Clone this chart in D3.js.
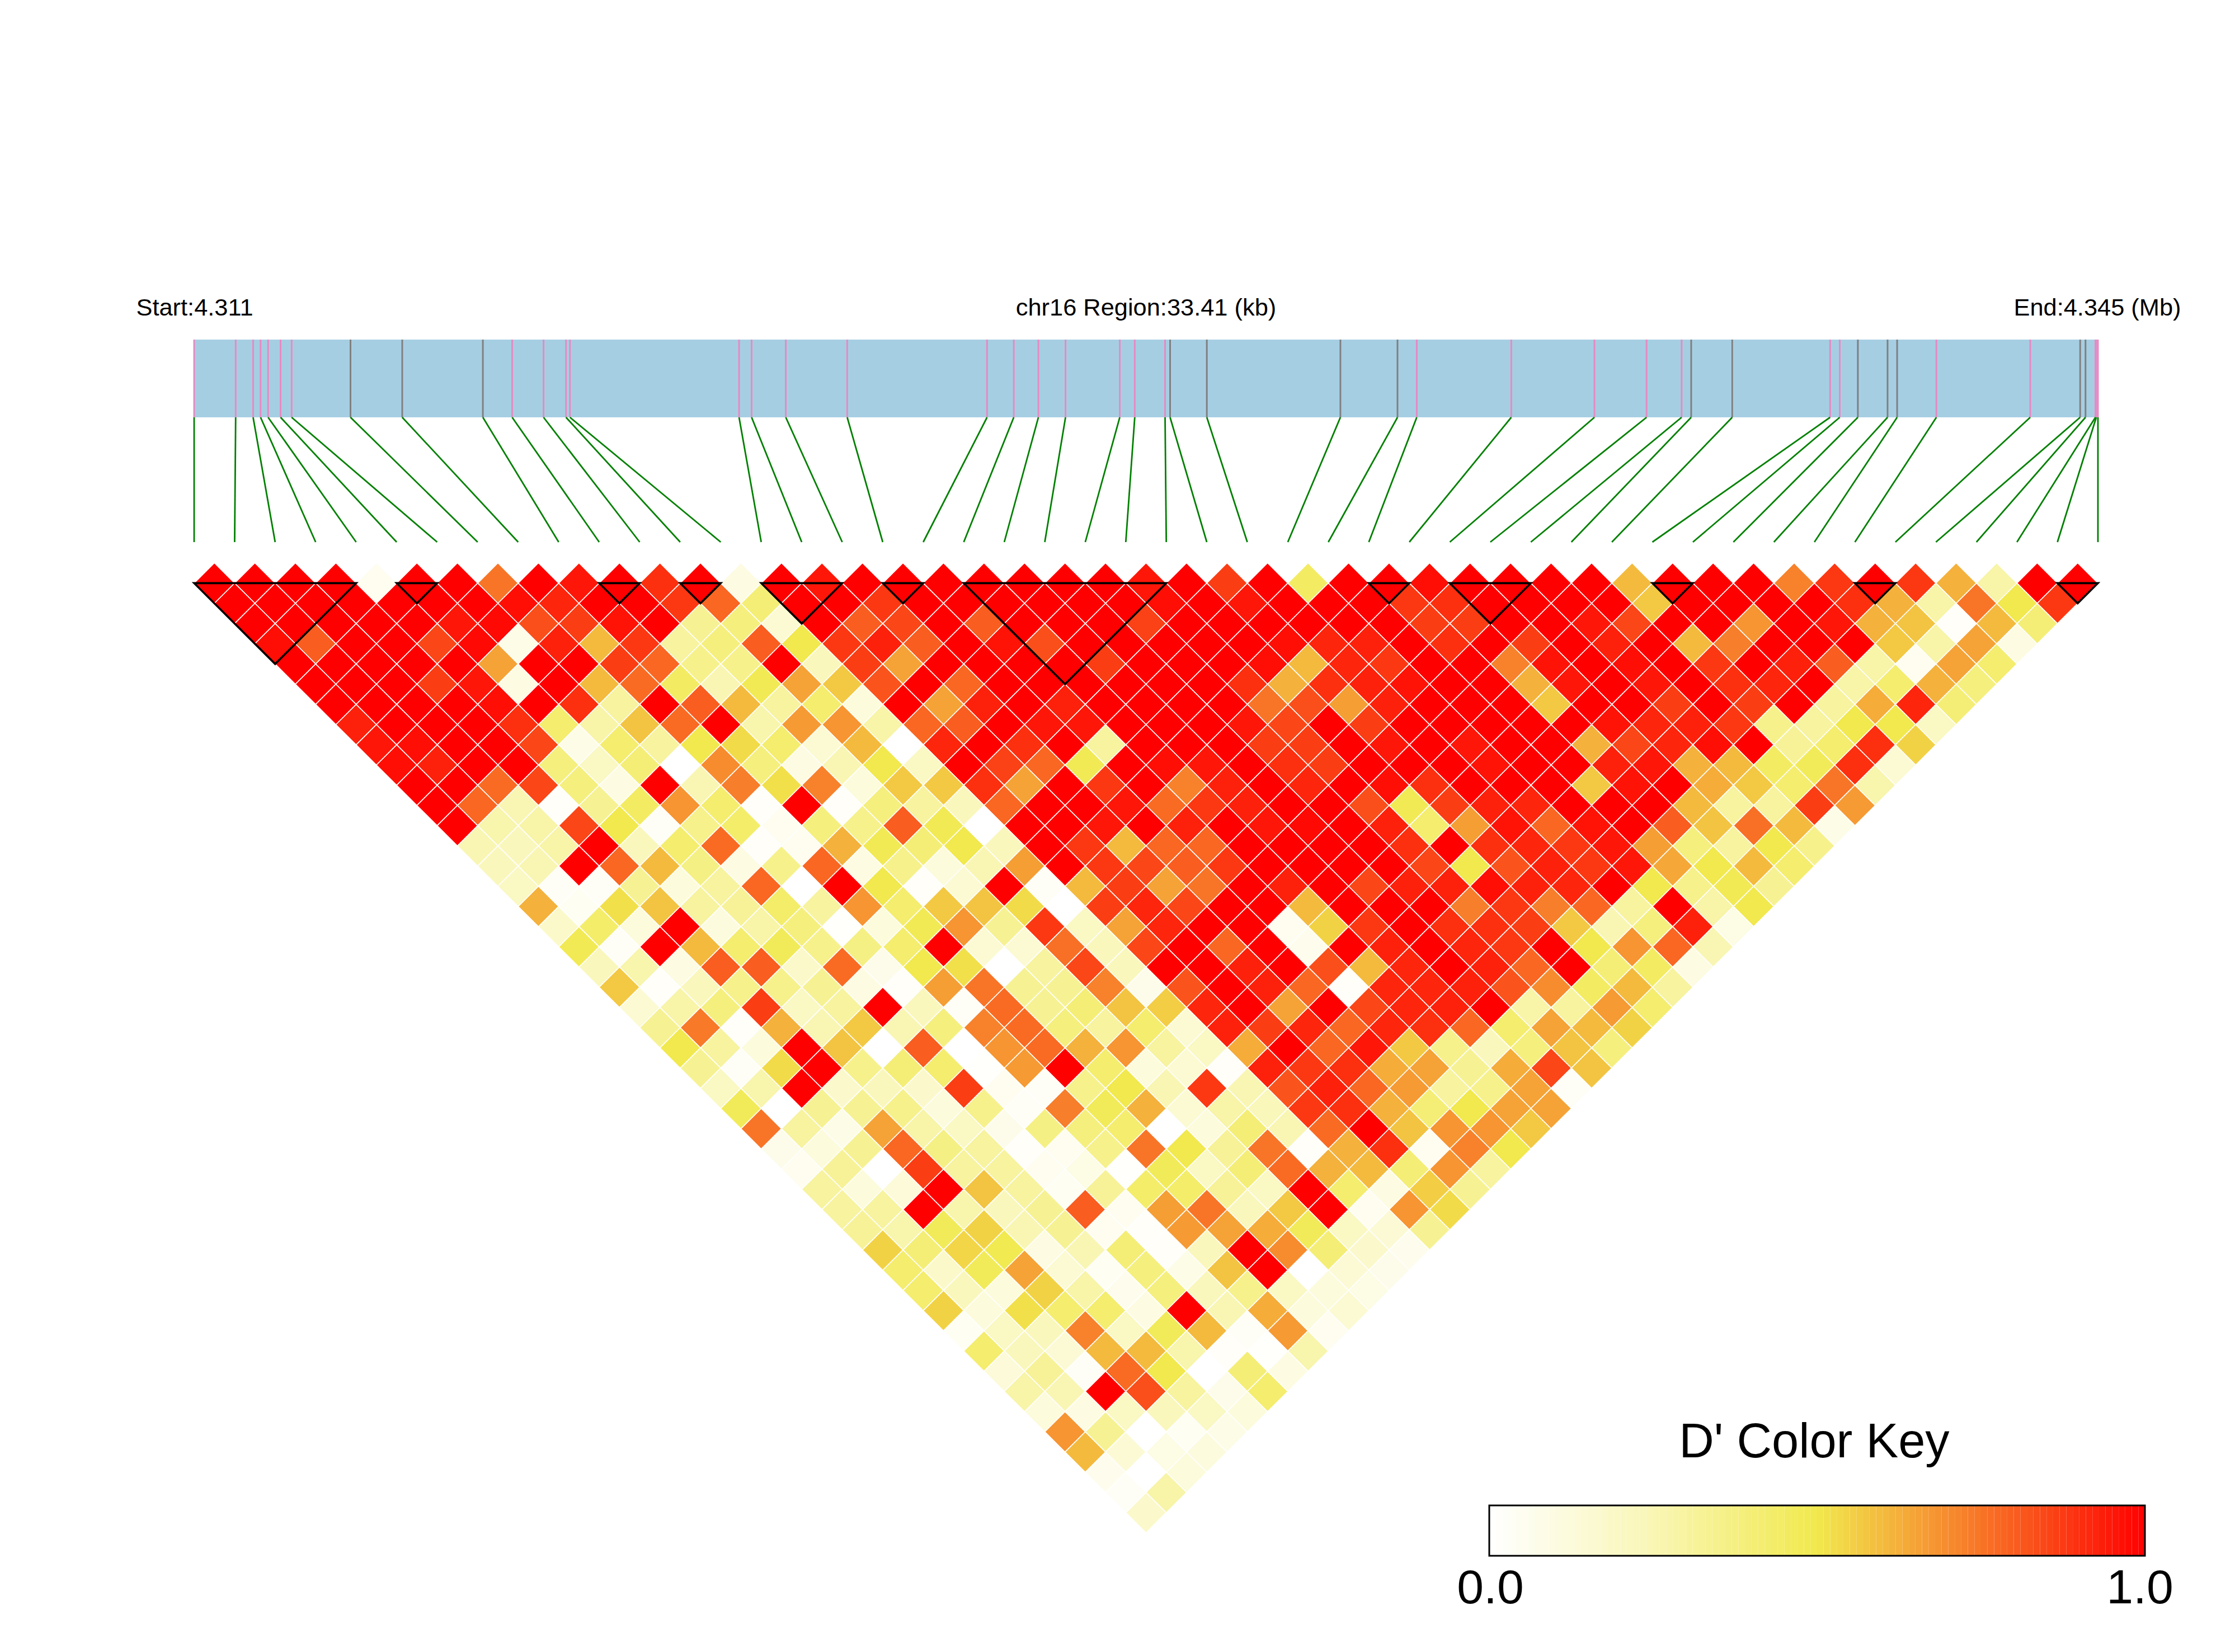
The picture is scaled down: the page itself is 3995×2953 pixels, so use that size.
<!DOCTYPE html>
<html>
<head>
<meta charset="utf-8">
<title>chr16 LD heatmap</title>
<script src="https://cdn.jsdelivr.net/npm/d3@7"></script>
<style>
  html, body { margin: 0; padding: 0; background: #fff; }
  text { font-family: "Liberation Sans", Arial, sans-serif; fill: #000; }
</style>
</head>
<body>
<svg id="chart" width="3995" height="2953"></svg>
<script>
// snp positions in kb from the region start
var snpKb = [0,.729,1.035,1.166,1.298,1.517,1.711,2.744,3.652,5.067,5.581,6.132,6.526,6.595,
  9.563,9.783,10.383,11.461,13.915,14.384,14.816,15.292,16.244,16.507,17.039,17.127,17.772,
  20.116,21.118,21.456,23.115,24.574,25.489,26.104,26.272,26.992,28.71,28.879,29.197,29.718,
  29.886,30.575,32.222,33.098,33.192,33.366,33.381,33.41];

// which snps get the grey tick, all others are pink
var greySnps = [7,8,9,25,26,27,28,34,35,38,39,40,43,44];

// haplotype blocks, first and last snp index
var blocks = [[0,4],[5,6],[10,11],[12,13],[14,16],[17,18],[19,24],[29,30],[31,33],[36,37],[41,42],[46,47]];

var headerLabels = ["Start:4.311", "chr16 Region:33.41 (kb)", "End:4.345 (Mb)"];
var keyTitle = "D' Color Key";
var keyLabels = ["0.0", "1.0"];

// D' values, one array per distance between snps (r0 = neighbours)
var r0 = [1,1,1,1,.05,1,1,.75,1,.95,1,.9,1,.1,1,.95,1,1,1,1,1,1,1,.95,1,.87,1,.45,1,1,.97,1,1,1,1,.6,1,1,1,.72,.88,1,.88,.62,.28,1,1];
var r1 = [1,1,1,1,1,1,1,.97,.92,1,1,.88,.78,.4,1,1,.88,1,1,1,1,1,1,.97,1,.95,1,1,1,.88,.9,1,1,1,1,.57,1,1,1,1,.9,.62,.28,.75,.5,.88];
var r2 = [1,1,1,1,1,.95,.98,.83,.87,.96,1,.33,.38,.15,1,.8,.85,1,.8,1,1,1,.86,1,1,1,1,1,1,.87,.87,1,1,.95,.85,1,1,.68,1,.95,.62,.58,.02,.6,.4];
var r3 = [.97,.8,1,1,.85,.98,.08,.93,.6,.88,.3,.38,.8,.5,.88,.93,.8,1,.96,.83,1,1,1,1,1,.97,.92,.93,1,.9,1,.87,1,.93,1,.6,.73,1,1,1,.57,.28,.65,.1];
var r4 = [1,1,1,1,1,.65,1,1,.87,.78,.35,.35,1,.22,.87,.65,1,1,1,1,.87,1,1,1,.97,.6,.92,.88,1,1,.72,.96,1,.97,1,.88,1,.93,.8,.28,.05,.65,.42];
var r5 = [1,1,1,.87,.95,.1,1,.6,.77,.45,.25,.48,.65,.57,.82,1,.78,1,1,1,1,1,1,.9,.62,.9,.93,.96,1,1,.62,.95,1,.95,1,.9,.92,1,.28,.42,.62,.38];
var r6 = [1,1,1,1,.97,1,.9,.3,1,.8,.6,.3,.42,.12,1,.65,.93,1,.93,1,1,1,1,.75,.83,.66,.93,1,1,1,.57,1,1,.87,1,.87,1,.3,.63,.92,.4];
var r7 = [.93,1,1,1,.9,.42,.28,.58,.77,1,.27,.67,.68,.28,.78,.8,1,.95,.95,1,1,1,.95,.85,1,.87,1,1,1,1,1,.96,.92,.93,.88,.35,.3,.5,.5,.2];
var r8 = [.95,.97,1,1,.85,.08,.42,.3,.5,.53,.42,.15,.6,0,.92,1,.9,1,.3,1,1,1,.87,.87,1,.95,1,.95,1,1,.62,.85,.92,.97,1,.32,.42,.9,.55];
var r9 = [.97,.93,1,1,.38,.2,.4,0,.7,.38,.1,.25,.5,.2,1,.86,.78,.48,1,.97,.95,1,.9,.87,1,1,1,.96,1,1,.93,.95,.62,.6,.45,.47,.9,.15];
var r10 = [1,1,.77,.85,.38,.1,1,.25,.73,.52,.72,.12,.57,.57,.9,.65,1,.88,1,.72,.93,1,.92,1,.97,.9,1,1,1,.57,.96,1,.63,.57,.42,.75,.27];
var r11 = [1,.78,.25,.02,.33,.45,.68,.42,.02,1,.02,.38,.3,.22,.78,1,1,.95,.77,.88,.93,1,1,.83,.48,.87,.93,.92,1,1,1,.6,.3,.3,.87,.67];
var r12 = [1,.27,.28,.85,.5,.03,.35,.43,.05,.38,.35,.8,.48,0,1,1,.95,1,.93,1,.95,.98,1,.93,.42,.66,.96,.78,.96,1,.8,.58,.76,.6,.08];
var r13 = [.25,.22,.28,1,.22,.42,.77,.02,.05,.62,.48,.4,.5,.22,1,.88,.6,.78,.78,1,1,1,1,.9,1,.9,.92,.88,.95,.66,.38,.3,.5,.35];
var r14 = [.22,.25,1,.78,.6,.37,.1,.35,.78,.1,.35,.12,.25,.66,1,.88,.85,.8,.88,1,1,1,1,.85,.5,.82,.93,.88,.95,.64,.5,.6,.42];
var r15 = [.2,.03,.03,.33,.12,.3,.78,0,1,.5,.02,.15,1,.03,.6,.87,.65,.75,1,.93,1,.85,.93,.93,.97,.93,.92,1,.5,.35,.48,.33];
var r16 = [.62,.04,.52,.58,.3,.32,.43,.3,.68,.42,.57,.58,.53,0,.87,.92,.85,1,1,.6,1,1,1,.73,.88,.73,.78,.3,1,.28,.5];
var r17 = [.18,.43,.12,1,.11,.28,.38,.01,.12,.48,.68,.33,.88,.2,.65,.92,1,1,.05,.55,.88,1,.9,.9,.87,.57,.25,.38,.93,.09];
var r18 = [.48,.03,1,.6,.42,.47,.35,.37,.42,1,.15,.15,.76,.22,.85,1,.78,1,.06,1,.93,1,.92,.88,1,.5,.68,.78,.25];
var r19 = [.22,.27,.1,.8,.8,.18,.77,.07,.5,.52,0,.3,.85,.22,1,1,.93,1,.83,.6,.92,1,.93,.78,1,.4,.45,.1];
var r20 = [.57,.02,.22,.35,.35,.33,.1,.02,.66,.75,.33,.33,.72,.07,.82,1,.93,.78,.02,.92,.92,.93,.82,.7,.45,.6,.3];
var r21 = [.15,.28,.38,.87,.2,.3,1,.22,.03,.77,.33,.4,.58,.56,.92,1,.65,1,.85,.92,.93,1,.28,.3,.67,.42];
var r22 = [.33,.74,.02,.62,.25,.57,.25,.38,.72,.77,.38,.3,.42,.15,.93,.87,.92,.78,.92,.9,.78,.42,.65,.6,.55];
var r23 = [.5,.3,.12,1,.58,0,.8,0,.68,.77,.62,.68,.3,.2,.63,1,.78,.95,.57,.35,.22,.38,.58,.38];
var r24 = [.33,.03,.53,1,.35,.4,.42,.01,.67,1,.42,.12,.15,.02,.93,.88,.9,.63,.65,.33,.63,.85,.58];
var r25 = [.2,.27,1,.17,.22,.17,.87,.05,.03,.35,.5,.25,.88,.25,.82,.93,.78,.67,.3,.35,.65,.03];
var r26 = [.47,0,.33,.33,.35,.12,.35,.03,.73,.47,.62,.15,.28,.23,.88,.9,.62,.4,.5,.65,.65];
var r27 = [.75,.3,.08,.65,.28,.2,.07,.37,.38,.42,0,.12,.4,.25,.77,1,.58,.68,.68,.57];
var r28 = [.07,.12,.33,.78,.37,.3,.02,.05,.35,.75,.5,.32,.75,.02,.62,.9,.05,.72,.5];
var r29 = [.05,.32,0,.87,.3,.3,.05,.09,.01,.47,.2,.4,.77,.62,.6,.4,.68,.3];
var r30 = [.3,.12,.13,1,.58,.3,.04,.32,.43,.43,.32,.2,1,.42,.1,.56,.33];
var r31 = [.3,.3,1,.27,.22,.33,.8,.05,.66,.75,.22,.57,1,.05,.68,.53];
var r32 = [.32,.27,.47,.55,.25,.33,.05,.02,.67,.65,.63,.47,.2,.14,.33];
var r33 = [.55,.4,.54,.49,.1,.25,.4,.02,.22,1,.7,.4,.17,.06];
var r34 = [.42,.18,.47,.65,.15,.04,.38,.08,.58,1,0,.14,.07];
var r35 = [.42,.22,.12,.55,.28,.06,.38,.22,.35,.2,.12,.09];
var r36 = [.55,.12,.52,.42,.42,.1,1,.25,.63,.12,.15];
var r37 = [.04,.2,.22,.72,.2,.47,.6,.03,.67,.05];
var r38 = [.42,.22,.14,.6,.6,.27,.02,.01,.27];
var r39 = [.13,.32,.03,.77,.5,0,.4,.1];
var r40 = [.28,.25,1,.83,.3,.07,.42];
var r41 = [.12,.1,.2,.22,.2,.12];
var r42 = [.68,.33,0,.04,.08];
var r43 = [.6,.14,.09,.11];
var r44 = [.06,0,.12];
var r45 = [.03,.28];
var r46 = [.17];

var rows = [r0,r1,r2,r3,r4,r5,r6,r7,r8,r9,r10,r11,r12,r13,r14,r15,r16,r17,r18,r19,r20,r21,r22,r23,
  r24,r25,r26,r27,r28,r29,r30,r31,r32,r33,r34,r35,r36,r37,r38,r39,r40,r41,r42,r43,r44,r45,r46];

var svg = d3.select("#chart");

var left = 347, right = 3750;
var stripTop = 607, stripBottom = 746, linkBottom = 969;
var heatTop = 1042.4, cellDrop = 36.12;

var kbScale = d3.scaleLinear().domain([0, 33.41]).range([left, right]);
var snpScale = d3.scaleLinear().domain([0, snpKb.length - 1]).range([left, right]);
var depthScale = d3.scaleLinear().domain([0, 1]).range([heatTop, heatTop + cellDrop]);
// the yellow half of the key is paler than a straight ramp
var colorScale = d3.scaleLinear().domain([0, .25, .5, 1]).range(["#ffffff", "#f9f6b4", "#f1e94d", "#ff0000"]);

// header
svg.selectAll(".header")
  .data(headerLabels)
  .enter().append("text")
  .attr("class", "header")
  .attr("x", function(d, i) { return [left + 1, (left + right) / 2, right - 1][i]; })
  .attr("y", 564)
  .attr("text-anchor", "middle")
  .style("font-size", "43.4px")
  .text(function(d) { return d; });

// gene strip with snp ticks
svg.append("rect")
  .attr("x", left).attr("y", stripTop)
  .attr("width", right - left).attr("height", stripBottom - stripTop)
  .attr("fill", "#a6cee3");

svg.selectAll(".tick")
  .data(snpKb)
  .enter().append("line")
  .attr("class", "tick")
  .attr("x1", function(d) { return kbScale(d); })
  .attr("x2", function(d) { return kbScale(d); })
  .attr("y1", stripTop).attr("y2", stripBottom)
  .attr("stroke", function(d, i) { return greySnps.indexOf(i) >= 0 ? "#808080" : "#e78ac3"; })
  .attr("stroke-width", 3);

// links from the strip down to the matrix
svg.selectAll(".link")
  .data(snpKb)
  .enter().append("line")
  .attr("class", "link")
  .attr("x1", function(d) { return kbScale(d); })
  .attr("x2", function(d, i) { return snpScale(i); })
  .attr("y1", stripBottom).attr("y2", linkBottom)
  .attr("stroke", "#008000")
  .attr("stroke-width", 2.8);

// one diamond for each pair of snps
var cells = [];
rows.forEach(function(row, r) {
  row.forEach(function(v, c) {
    cells.push({r: r, c: c, v: v});
  });
});

function diamond(d) {
  var midX = d.c + (d.r + 1) / 2;
  var a = [snpScale(midX), depthScale(d.r - 1)];
  var b = [snpScale(midX + .5), depthScale(d.r)];
  var e = [snpScale(midX), depthScale(d.r + 1)];
  var f = [snpScale(midX - .5), depthScale(d.r)];
  return d3.line()([a, b, e, f]) + "Z";
}

svg.append("g").selectAll("path")
  .data(cells)
  .enter().append("path")
  .attr("d", diamond)
  .attr("fill", function(d) { return colorScale(d.v); })
  .attr("stroke", "#ffffff")
  .attr("stroke-width", 1.6);

// haplotype blocks
svg.append("g").selectAll("path")
  .data(blocks)
  .enter().append("path")
  .attr("d", function(b) {
    return d3.line()([
      [snpScale(b[0]), heatTop],
      [snpScale(b[1]), heatTop],
      [snpScale((b[0] + b[1]) / 2), depthScale(b[1] - b[0])]
    ]) + "Z";
  })
  .attr("fill", "none")
  .attr("stroke", "#000")
  .attr("stroke-width", 3.6);

// colour key
var keyLeft = 2662, keyRight = 3834, keyTop = 2691, keyBottom = 2781, keySteps = 100;
var keyScale = d3.scaleLinear().domain([0, 1]).range([keyLeft, keyRight]);

svg.append("g").selectAll("rect")
  .data(d3.range(keySteps))
  .enter().append("rect")
  .attr("x", function(d) { return keyScale(d / keySteps); })
  .attr("y", keyTop)
  .attr("width", (keyRight - keyLeft) / keySteps)
  .attr("height", keyBottom - keyTop)
  .attr("fill", function(d) { return colorScale((d + .5) / keySteps); });

svg.append("rect")
  .attr("x", keyLeft).attr("y", keyTop)
  .attr("width", keyRight - keyLeft).attr("height", keyBottom - keyTop)
  .attr("fill", "none")
  .attr("stroke", "#000")
  .attr("stroke-width", 3);

svg.append("text")
  .attr("x", 3243).attr("y", 2605)
  .attr("text-anchor", "middle")
  .style("font-size", "86.6px")
  .text(keyTitle);

svg.selectAll(".keylabel")
  .data(keyLabels)
  .enter().append("text")
  .attr("class", "keylabel")
  .attr("x", function(d, i) { return [keyScale(0) + 2, keyScale(1) - 9][i]; })
  .attr("y", 2866)
  .attr("text-anchor", "middle")
  .style("font-size", "86px")
  .text(function(d) { return d; });
</script>
</body>
</html>
